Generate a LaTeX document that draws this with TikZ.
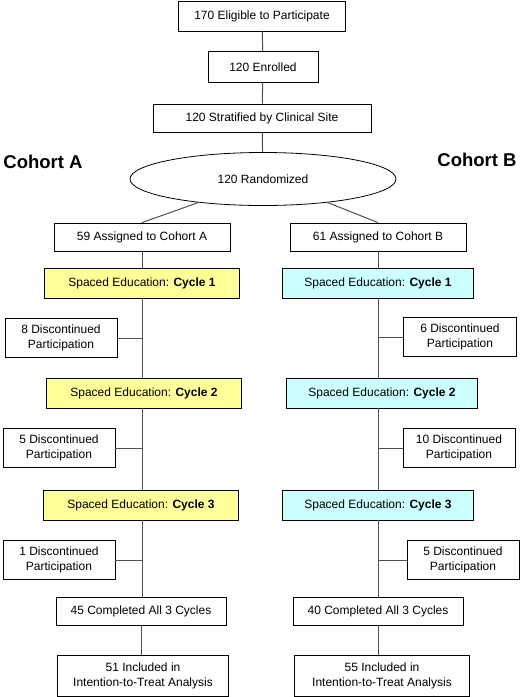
\documentclass[tikz,border=0pt]{standalone}
\usepackage{fontspec}
\setmainfont{Liberation Sans}
\usetikzlibrary{shapes.geometric}
\definecolor{cohortyellow}{HTML}{FFFF99}
\definecolor{cohortblue}{HTML}{CCFFFF}
\definecolor{linkgray}{HTML}{505050}
\begin{document}
\begin{tikzpicture}[x=1pt,y=-1pt]
  \tikzstyle{every node}=[draw, rectangle, line width=0.8pt, inner sep=0pt, align=center,
    font=\fontsize{12}{14.5}\selectfont]
  \tikzstyle{cycleA}=[fill=cohortyellow, minimum width=195pt, minimum height=30pt]
  \tikzstyle{cycleB}=[fill=cohortblue, minimum width=191pt, minimum height=30pt]
  \tikzstyle{drop}=[minimum width=112pt, minimum height=39pt]
  \useasboundingbox (0,0) rectangle (520,697);

  % Specification of nodes (position, etc.)
  \node[minimum width=167pt, minimum height=30pt] (Eligible) at (262,16) {170 Eligible to Participate};
  \node[minimum width=110pt, minimum height=31pt] (Enrolled) at (263,67) {120 Enrolled};
  \node[minimum width=218pt, minimum height=28pt] (Stratified) at (262,118) {120 Stratified by Clinical Site};
  \node[ellipse, minimum width=266pt, minimum height=53pt] (Randomized) at (263,179) {120 Randomized};
  \node[draw=none, font=\fontsize{18.5}{20}\selectfont\bfseries] (CohortA) at (43,162) {Cohort A};
  \node[draw=none, font=\fontsize{18.5}{20}\selectfont\bfseries] (CohortB) at (477,160) {Cohort B};

  % Cohort A
  \node[minimum width=176pt, minimum height=28pt] (AssignA) at (142,237) {59 Assigned to Cohort A};
  \node[cycleA] (CycleA1) at (142,283) {Spaced Education: \textbf{Cycle 1}};
  \node[drop] (DropA1) at (61,338) {8 Discontinued\\Participation};
  \node[cycleA] (CycleA2) at (144,393) {Spaced Education: \textbf{Cycle 2}};
  \node[drop] (DropA2) at (59,448) {5 Discontinued\\Participation};
  \node[cycleA] (CycleA3) at (141,505) {Spaced Education: \textbf{Cycle 3}};
  \node[drop] (DropA3) at (59,560) {1 Discontinued\\Participation};
  \node[minimum width=170pt, minimum height=28pt] (DoneA) at (141,611) {45 Completed All 3 Cycles};
  \node[minimum width=171pt, minimum height=41pt] (ITTA) at (143,676) {51 Included in\\Intention-to-Treat Analysis};

  % Cohort B
  \node[minimum width=176pt, minimum height=28pt] (AssignB) at (378,237) {61 Assigned to Cohort B};
  \node[cycleB] (CycleB1) at (378,283) {Spaced Education: \textbf{Cycle 1}};
  \node[drop, minimum width=113pt] (DropB1) at (460,337) {6 Discontinued\\Participation};
  \node[cycleB] (CycleB2) at (382,393) {Spaced Education: \textbf{Cycle 2}};
  \node[drop] (DropB2) at (459,448) {10 Discontinued\\Participation};
  \node[cycleB] (CycleB3) at (378,505) {Spaced Education: \textbf{Cycle 3}};
  \node[drop] (DropB3) at (463,560) {5 Discontinued\\Participation};
  \node[minimum width=170pt, minimum height=28pt] (DoneB) at (378,611) {40 Completed All 3 Cycles};
  \node[minimum width=175pt, minimum height=41pt] (ITTB) at (382,676) {55 Included in\\Intention-to-Treat Analysis};

  \begin{scope}[draw=linkgray, line width=1pt]
    \draw (Eligible) -- (Enrolled) -- (Stratified) -- (Randomized);
    \draw (Randomized.200) -- (AssignA.north);
    \draw (Randomized.-20) -- (AssignB.north);
    \draw (AssignA) -- (AssignA |- CycleA1.north);
    \draw (AssignA |- CycleA1.south) -- (AssignA |- CycleA2.north);
    \draw (AssignA |- CycleA2.south) -- (AssignA |- CycleA3.north);
    \draw (AssignA |- CycleA3.south) -- (AssignA |- DoneA.north);
    \draw (DoneA) -- (DoneA |- ITTA.north);
    \draw (AssignB) -- (AssignB |- CycleB1.north);
    \draw (AssignB |- CycleB1.south) -- (AssignB |- CycleB2.north);
    \draw (AssignB |- CycleB2.south) -- (AssignB |- CycleB3.north);
    \draw (AssignB |- CycleB3.south) -- (AssignB |- DoneB.north);
    \draw (DoneB) -- (DoneB |- ITTB.north);
    \draw (DropA1) -- (DropA1 -| AssignA);
    \draw (DropA2) -- (DropA2 -| AssignA);
    \draw (DropA3) -- (DropA3 -| AssignA);
    \draw (DropB1) -- (DropB1 -| AssignB);
    \draw (DropB2) -- (DropB2 -| AssignB);
    \draw (DropB3) -- (DropB3 -| AssignB);
  \end{scope}
\end{tikzpicture}
\end{document}
